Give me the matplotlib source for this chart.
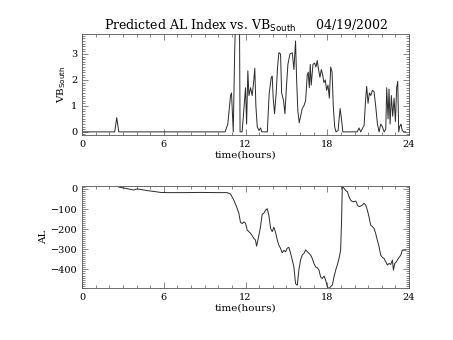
import numpy as np
import matplotlib.pyplot as plt
from matplotlib.ticker import MultipleLocator

# VB south trace (hours, value)
vb_hours = [0.0, 2.4, 2.55, 2.7, 10.5, 10.7, 10.9, 10.97, 11.1, 11.2, 11.3, 11.55, 11.6, 11.75,
            12.0, 12.08, 12.17, 12.25, 12.37, 12.49, 12.61, 12.68, 12.76, 12.86, 12.98, 13.1, 13.2,
            13.6, 13.67, 13.74, 13.89, 13.96, 14.03, 14.13, 14.25, 14.35, 14.45, 14.57, 14.65,
            14.79, 14.89, 15.01, 15.11, 15.26, 15.43, 15.55, 15.67, 15.75, 15.84, 15.94, 16.04,
            16.16, 16.28, 16.41, 16.53, 16.6, 16.68, 16.75, 16.82, 16.95, 17.07, 17.17, 17.26,
            17.36, 17.46, 17.56, 17.66, 17.75, 17.85, 17.95, 18.05, 18.15, 18.25, 18.35, 18.44,
            18.54, 18.64, 18.79, 18.94, 19.04, 19.14, 19.5, 20.2, 20.33, 20.45, 20.7, 20.82,
            20.89, 20.99, 21.09, 21.19, 21.31, 21.43, 21.55, 21.68, 21.8, 21.92, 22.04, 22.17,
            22.29, 22.36, 22.46, 22.53, 22.61, 22.7, 22.8, 22.9, 23.0, 23.09, 23.17, 23.24,
            23.31, 23.41, 23.5, 23.62, 23.75]
vb_values = [0.0, 0.0, 0.55, 0.0, 0.0, 0.3, 1.4, 1.5, 0.0, 3.0, 5.0, 5.0, 0.0, 0.0,
             1.7, 0.3, 2.35, 1.4, 1.7, 1.4, 2.0, 2.45, 1.0, 0.2, 0.05, 0.15, 0.0,
             0.0, 0.8, 1.5, 2.1, 2.15, 1.3, 0.7, 1.5, 2.5, 3.05, 3.0, 1.5,
             1.2, 0.7, 1.8, 2.6, 3.0, 3.05, 2.4, 3.5, 2.0, 0.8, 0.35, 0.6,
             0.9, 1.0, 1.2, 2.2, 2.3, 1.7, 2.6, 1.8, 2.6, 2.65, 2.5, 2.75,
             2.4, 2.1, 2.4, 2.2, 1.9, 2.0, 1.6, 1.8, 1.3, 2.5, 2.3, 1.0,
             0.2, 0.0, 0.05, 0.9, 0.5, 0.0, 0.0, 0.0, 0.15, 0.0, 0.25, 1.3,
             1.75, 1.1, 1.5, 1.4, 1.6, 1.55, 1.0, 0.3, 0.0, 0.3, 0.2, 0.0,
             0.1, 1.7, 0.5, 1.65, 0.3, 1.4, 0.6, 1.3, 0.4, 1.7, 1.95, 0.0,
             0.2, 0.3, 0.05, 0.0, 0.0]

# AL index trace (hours, nT)
al_hours = [2.69, 3.06, 3.43, 3.80, 4.04, 4.29, 4.78, 5.27, 5.76, 6.24,
            7.47, 8.69, 9.92, 10.65, 10.90, 11.14, 11.34, 11.51, 11.63, 11.76,
            11.88, 12.00, 12.12, 12.37, 12.61, 12.73, 12.81, 12.91, 13.10, 13.22,
            13.35, 13.47, 13.59, 13.71, 13.84, 13.96, 14.08, 14.20, 14.33, 14.45,
            14.57, 14.69, 14.82, 14.94, 15.06, 15.18, 15.31, 15.43, 15.55, 15.67,
            15.80, 15.92, 16.04, 16.16, 16.29, 16.41, 16.53, 16.65, 16.78, 16.90,
            17.02, 17.14, 17.27, 17.39, 17.51, 17.63, 17.76, 17.88, 18.00, 18.12,
            18.24, 18.37, 18.49, 18.61, 18.73, 18.86, 18.98, 19.05, 19.10, 19.22,
            19.35, 19.47, 19.59, 19.71, 19.84, 19.96, 20.08, 20.16, 20.20, 20.33,
            20.45, 20.57, 20.69, 20.82, 20.94, 21.06, 21.18, 21.31, 21.43, 21.55,
            21.67, 21.80, 21.92, 22.04, 22.16, 22.29, 22.41, 22.53, 22.65, 22.78,
            22.85, 22.95, 23.07, 23.14, 23.27, 23.39, 23.51, 23.76]
al_values = [10, 5, 0, -5, 0, -2, -8, -12, -17, -18,
             -18, -17, -18, -18, -25, -55, -88, -120, -166, -172,
             -163, -170, -204, -220, -245, -254, -284, -254, -188, -126,
             -120, -105, -98, -130, -196, -212, -190, -215, -254, -280,
             -295, -317, -305, -312, -294, -290, -320, -353, -387, -470,
             -478, -400, -353, -328, -320, -303, -311, -320, -329, -346,
             -370, -387, -392, -403, -437, -445, -433, -453, -486, -495,
             -486, -478, -437, -405, -378, -345, -304, -150, 12, 4,
             -8, -13, -38, -55, -63, -63, -60, -68, -80, -88,
             -85, -80, -71, -80, -105, -138, -179, -187, -196, -221,
             -254, -287, -329, -340, -345, -362, -378, -370, -375, -353,
             -403, -370, -362, -353, -340, -329, -304, -304]

date_str = '04/19/2002'
xticks = [0, 6, 12, 18, 24]

plt.rcParams['font.family'] = 'DejaVu Serif'
fig = plt.figure(figsize=(4.53, 3.4), dpi=100)
ax1 = fig.add_axes([0.181, 0.603, 0.722, 0.297])
ax2 = fig.add_axes([0.181, 0.153, 0.722, 0.300])

line_kw = dict(color='#2a2a2a', lw=0.7)
ax1.plot(vb_hours, vb_values, **line_kw)
ax2.plot(al_hours, al_values, **line_kw)

ax1.set_ylim(-0.12, 3.77)
ax1.yaxis.set_major_locator(MultipleLocator(1))
ax1.yaxis.set_minor_locator(MultipleLocator(0.1))
ax1.set_ylabel('VB$_{\\rm South}$', fontsize=7.5, labelpad=2)
ax1.set_title('Predicted AL Index vs. VB$_{\\rm South}$     ' + date_str,
              fontsize=9, pad=3)

ax2.set_ylim(-492, 15)
ax2.yaxis.set_major_locator(MultipleLocator(100))
ax2.yaxis.set_minor_locator(MultipleLocator(10))
ax2.set_yticks([0, -100, -200, -300, -400])
ax2.set_ylabel('AL', fontsize=7.5, labelpad=2)

for ax in (ax1, ax2):
    ax.set_xlim(0, 24)
    ax.set_xticks(xticks)
    ax.xaxis.set_minor_locator(MultipleLocator(1))
    ax.set_xlabel('time(hours)', fontsize=7.5, labelpad=1)
    ax.tick_params(which='both', direction='in', top=True, right=True,
                   labelsize=7, width=0.5, color='#555555')
    ax.tick_params(which='major', length=4)
    ax.tick_params(which='minor', length=2)
    for s in ax.spines.values():
        s.set_linewidth(0.6)
        s.set_color('#555555')

fig.savefig('out.png', dpi=100)
